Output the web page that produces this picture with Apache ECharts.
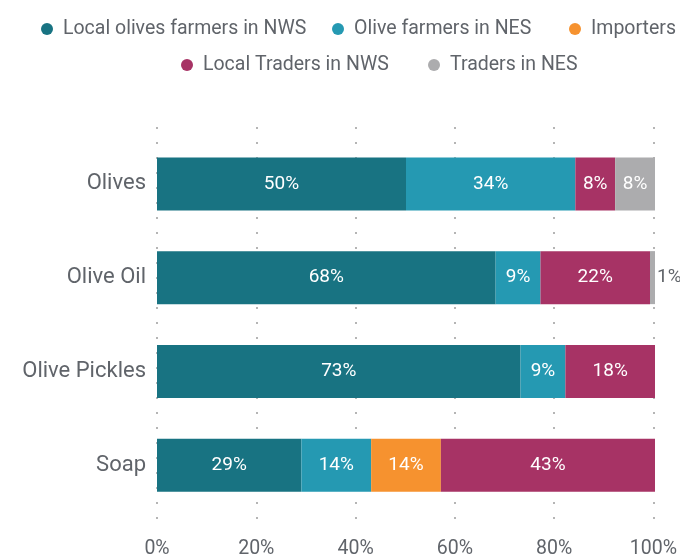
<!DOCTYPE html>
<html>
<head>
<meta charset="utf-8">
<script src="https://cdn.jsdelivr.net/npm/echarts@6/dist/echarts.min.js"></script>
<style>
  html, body { margin: 0; padding: 0; background: #ffffff; }
  #chart { width: 680px; height: 559px; }
</style>
</head>
<body>
<div id="chart"></div>
<script>
// Products and the share of each market channel (percent)
const categories = ['Olives', 'Olive Oil', 'Olive Pickles', 'Soap'];
const localFarmersNWS = [50, 68, 73, 29];
const farmersNES = [34, 9, 9, 14];
const importers = [null, null, null, 14];
const localTradersNWS = [8, 22, 18, 43];
const tradersNES = [8, 1, null, null];
const tickLabels = ['0%', '20%', '40%', '60%', '80%', '100%'];

const FONT = 'Roboto, "Noto Sans", sans-serif';
const TEXT = '#60646a';

const seriesDefs = [
  { name: 'Local olives farmers in NWS', data: localFarmersNWS, color: '#187382' },
  { name: 'Olive farmers in NES', data: farmersNES, color: '#2599b2' },
  { name: 'Importers', data: importers, color: '#f6922f' },
  { name: 'Local Traders in NWS', data: localTradersNWS, color: '#a73365' },
  { name: 'Traders in NES', data: tradersNES, color: '#acacae' }
];

// Values too narrow for an inside label get theirs drawn to the right
const SMALL = 3;

const series = seriesDefs.map(s => ({
  name: s.name,
  type: 'bar',
  stack: 'total',
  xAxisIndex: 0,
  yAxisIndex: 0,
  barWidth: 53,
  itemStyle: { color: s.color },
  emphasis: { disabled: true },
  data: s.data.map(v => {
    if (v == null) return null;
    const item = { value: v };
    if (v < SMALL) {
      item.label = { position: 'right', color: TEXT, distance: 2 };
    }
    return item;
  }),
  label: {
    show: true,
    position: 'inside',
    color: '#ffffff',
    fontFamily: FONT,
    fontSize: 19,
    formatter: p => p.value + '%'
  }
}));

// Legend laid out as two centred rows; each entry placed on its own
const legendSlots = [
  { left: 36, top: 14 },
  { left: 327, top: 14 },
  { left: 564, top: 14 },
  { left: 176, top: 50 },
  { left: 423, top: 50 }
];
const legends = seriesDefs.map((s, i) => ({
  data: [s.name],
  left: legendSlots[i].left,
  top: legendSlots[i].top,
  icon: 'circle',
  itemWidth: 22,
  itemHeight: 12,
  textStyle: { color: TEXT, fontFamily: FONT, fontSize: 19.5 },
  selectedMode: false
}));

const chart = echarts.init(document.getElementById('chart'), null, { renderer: 'canvas' });

chart.setOption({
  backgroundColor: '#ffffff',
  animation: false,
  legend: legends,
  grid: [
    // bars
    { left: 157, right: 25, top: 137, bottom: 47 },
    // dotted gridlines and percent labels, a little taller than the bar band
    { left: 157, right: 25, top: 127, bottom: 27 }
  ],
  xAxis: [
    {
      gridIndex: 0, type: 'value', min: 0, max: 100,
      show: false
    },
    {
      gridIndex: 1, type: 'value', min: 0, max: 100, interval: 20,
      axisLine: { show: false },
      axisTick: { show: false },
      axisLabel: {
        margin: 7,
        color: TEXT, fontFamily: FONT, fontSize: 19.5,
        formatter: v => tickLabels[Math.round(v / 20)]
      },
      splitLine: {
        show: true,
        lineStyle: { color: '#b5b5b5', width: 2, type: [2, 13] }
      }
    }
  ],
  yAxis: [
    {
      gridIndex: 0, type: 'category', data: categories, inverse: true,
      axisLine: { show: false },
      axisTick: { show: false },
      axisLabel: { margin: 11, color: TEXT, fontFamily: FONT, fontSize: 22 }
    },
    {
      gridIndex: 1, type: 'category', data: categories, show: false
    }
  ],
  series: series
});
</script>
</body>
</html>
